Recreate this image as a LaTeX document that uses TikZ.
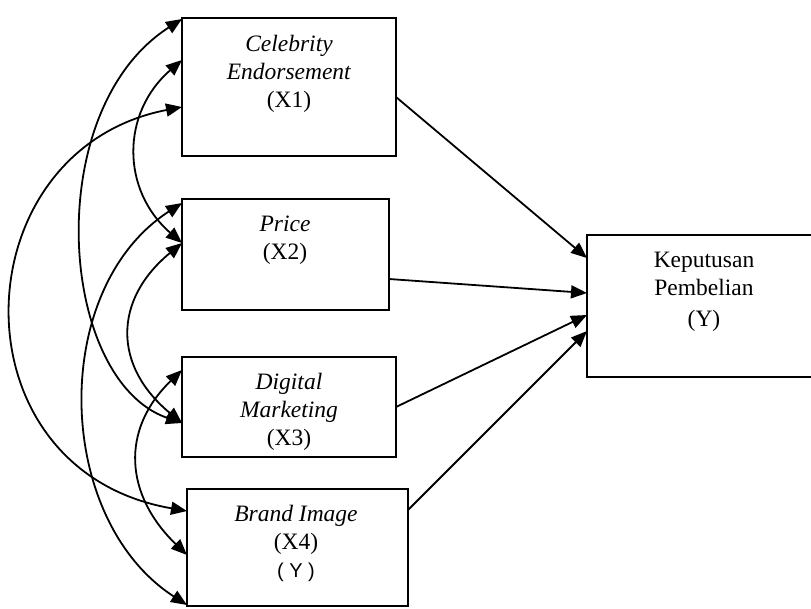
\documentclass[tikz,border=0pt]{standalone}
\usepackage{fontspec}
\setmainfont{Liberation Serif}
\newfontfamily\sansY{Liberation Sans}
\usetikzlibrary{arrows.meta}
\begin{document}
\begin{tikzpicture}[x=1pt,y=-1pt,
  box/.style={draw, line width=1.8pt, rectangle, inner sep=0pt, outer sep=0pt, anchor=north west},
  lbl/.style={anchor=base, inner sep=0pt, font=\fontsize{23.5}{28}\selectfont},
  arr/.style={line width=1.8pt, -{Triangle[length=16pt,width=13pt]}},
  darr/.style={line width=1.8pt, {Triangle[length=16pt,width=13pt]}-{Triangle[length=16pt,width=13pt]}}]
\clip (0,0) rectangle (811,608);
\useasboundingbox (0,0) rectangle (811,608);
% boxes
\node[box, minimum width=214pt, minimum height=138pt] (x1) at (182,18) {};
\node[box, minimum width=207pt, minimum height=111pt] (x2) at (182,199) {};
\node[box, minimum width=214pt, minimum height=100pt] (x3) at (182,357) {};
\node[box, minimum width=221pt, minimum height=117pt] (x4) at (187,489) {};
\node[box, minimum width=250pt, minimum height=142pt] (yb) at (587,235) {};
% texts
\node[lbl] (x1t) at (289,51) {\begin{tabular}[t]{@{}c@{}}\textit{Celebrity}\\\textit{Endorsement}\\(X1)\end{tabular}};
\node[lbl] (x2t) at (285,231) {\begin{tabular}[t]{@{}c@{}}\textit{Price}\\(X2)\end{tabular}};
\node[lbl] (x3t) at (289,389) {\begin{tabular}[t]{@{}c@{}}\textit{Digital}\\\textit{Marketing}\\(X3)\end{tabular}};
\node[lbl] (x4t) at (296,521) {\begin{tabular}[t]{@{}c@{}}\textit{Brand Image}\\(X4)\\{\sansY\fontsize{20}{28}\selectfont( Y )}\end{tabular}};
\node[lbl] (ybt) at (704,267) {\begin{tabular}[t]{@{}c@{}}Keputusan\\Pembelian\\[3pt](Y)\end{tabular}};
% straight arrows
\draw[arr] (x1.east |- 0,97) -- (yb.west |- 0,258);
\draw[arr] (x2.east |- 0,279) -- (yb.west |- 0,293);
\draw[arr] (x3.east |- 0,407) -- (yb.west |- 0,315);
\draw[arr] (x4.east |- 0,510) -- (yb.west |- 0,331);
% correlation curves
\draw[darr] (x1.west |- 0,19) .. controls (40,110) and (58,380) .. (x3.west |- 0,423);
\draw[darr] (x1.west |- 0,60) .. controls (121,113) and (121,190) .. (x2.west |- 0,243);
\draw[darr] (x1.west |- 0,107) .. controls (-40,150) and (-50,470) .. (x4.west |- 0,511);
\draw[darr] (x2.west |- 0,203) .. controls (49,289) and (54,519) .. (x4.west |- 0,605);
\draw[darr] (x2.west |- 0,243) .. controls (113,300) and (113,366) .. (x3.west |- 0,423);
\draw[darr] (x3.west |- 0,370) .. controls (120,430) and (125,495) .. (x4.west |- 0,555);
\end{tikzpicture}
\end{document}
